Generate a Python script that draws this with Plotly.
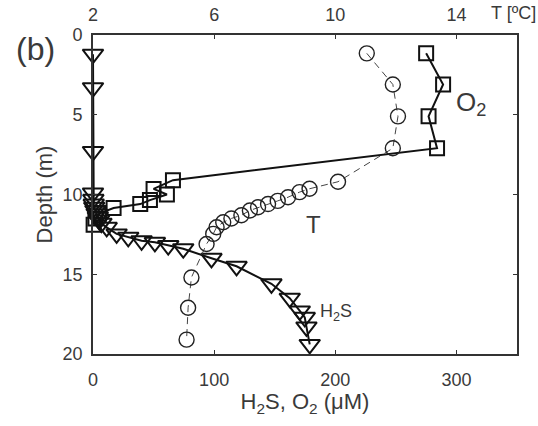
import plotly.graph_objects as go

# H2S profile (uM) vs depth (m)
h2s_depth = [1.2, 3.3, 7.3, 9.9, 10.3, 10.6, 10.8, 11.0, 11.2, 11.4, 11.6, 11.8,
             12.06, 12.47, 12.68, 12.9, 13.0, 13.2, 13.4, 14.0, 14.5, 15.6,
             16.5, 17.3, 17.7, 18.3, 19.4]
h2s_val = [0, 0, 0, 0, 0.3, 0.6, 1, 2, 3, 4, 5, 7,
           11.3, 19.5, 29.1, 40.1, 51.1, 62.1, 74.5, 97.8, 118.5, 147.3,
           162.4, 170.7, 174.8, 176.2, 178.9]

# O2 profile (uM)
o2_depth = [1.15, 3.1, 5.1, 7.1, 9.1, 9.65, 10.0, 10.35, 10.6, 10.85, 11.2, 11.5, 11.9]
o2_val = [275, 289, 277, 284, 66, 50, 61, 47, 39, 17, 5, 2, 0.5]

# Temperature profile (degC)
t_depth = [1.15, 3.1, 5.1, 7.1, 9.2, 9.64, 9.85, 10.17, 10.4, 10.6, 10.8, 11.0,
           11.3, 11.5, 11.74, 12.05, 12.47, 13.1, 15.2, 17.1, 19.1]
t_val = [11.04, 11.9, 12.07, 11.9, 10.09, 9.15, 8.82, 8.44, 8.1, 7.78, 7.45, 7.18,
         6.9, 6.57, 6.3, 6.08, 5.97, 5.75, 5.25, 5.14, 5.09]

x_ticks = [0, 100, 200, 300]
t_ticks = [2, 6, 10, 14]
y_ticks = [0, 5, 10, 15, 20]

FONT = "Liberation Sans, Arial, sans-serif"
TXT = "#3a3a3a"
AX = "#333333"

fig = go.Figure()
fig.add_trace(go.Scatter(
    x=t_val, y=t_depth, xaxis="x2", yaxis="y", mode="lines+markers",
    cliponaxis=False,
    line=dict(color="#444444", width=1, dash="7px,5px"),
    marker=dict(symbol="circle-open", size=15, color="#222222", line=dict(width=1.4)),
    showlegend=False))
fig.add_trace(go.Scatter(
    x=o2_val, y=o2_depth, mode="lines+markers", cliponaxis=False,
    line=dict(color="#111111", width=2),
    marker=dict(symbol="square-open", size=14, color="#111111", line=dict(width=2)),
    showlegend=False))
fig.add_trace(go.Scatter(
    x=h2s_val, y=h2s_depth, mode="lines+markers", cliponaxis=False,
    line=dict(color="#111111", width=2),
    marker=dict(symbol="triangle-down-open", size=18, color="#111111", line=dict(width=2)),
    showlegend=False))

fig.update_layout(
    width=538, height=426,
    margin=dict(l=93, r=21, t=35, b=72, autoexpand=False),
    paper_bgcolor="white", plot_bgcolor="white",
    font=dict(family=FONT, color=TXT, size=18),
    xaxis=dict(range=[0, 350], tickvals=x_ticks, ticks="inside", ticklen=4,
               tickcolor=AX, showline=True, linecolor=AX, linewidth=1.8,
               mirror=True, showgrid=False, zeroline=False, automargin=False,
               ticklabelstandoff=8, tickfont=dict(size=18, color=TXT),
               title=dict(text="H<sub>2</sub>S, O<sub>2</sub> (μM)",
                          font=dict(size=22, color=TXT), standoff=4)),
    xaxis2=dict(range=[2, 16], overlaying="x", side="top", tickvals=t_ticks,
                ticks="inside", ticklen=4, tickcolor=AX, showline=False,
                showgrid=False, zeroline=False, ticklabelstandoff=9, automargin=False,
                tickfont=dict(size=18, color=TXT)),
    yaxis=dict(range=[20, 0], tickvals=y_ticks, ticks="inside", ticklen=4,
               tickcolor=AX, showline=True, linecolor=AX, linewidth=1.8,
               mirror="ticks", showgrid=False, zeroline=False, automargin=False,
               ticklabelstandoff=5, tickfont=dict(size=18, color=TXT),
               title=dict(text="Depth (m)", font=dict(size=22, color=TXT), standoff=4)),
    annotations=[
        dict(text="(b)", xref="paper", yref="paper", x=-0.135, y=0.955,
             xanchor="center", yanchor="middle", showarrow=False,
             font=dict(size=32, color=TXT)),
        dict(text="T [ºC]", xref="paper", yref="paper", x=1.05, y=1.0, yshift=22,
             xanchor="right", yanchor="middle", showarrow=False,
             font=dict(size=18, color=TXT)),
        dict(text="O<sub>2</sub>", xref="x", yref="y", x=298, y=4.3,
             xanchor="left", yanchor="middle", showarrow=False,
             font=dict(size=26, color=TXT)),
        dict(text="T", xref="x", yref="y", x=174, y=11.9,
             xanchor="left", yanchor="middle", showarrow=False,
             font=dict(size=24, color=TXT)),
        dict(text="H<sub>2</sub>S", xref="x", yref="y", x=186, y=17.4,
             xanchor="left", yanchor="middle", showarrow=False,
             font=dict(size=18, color=TXT)),
    ],
)

fig.write_html("out.html")
